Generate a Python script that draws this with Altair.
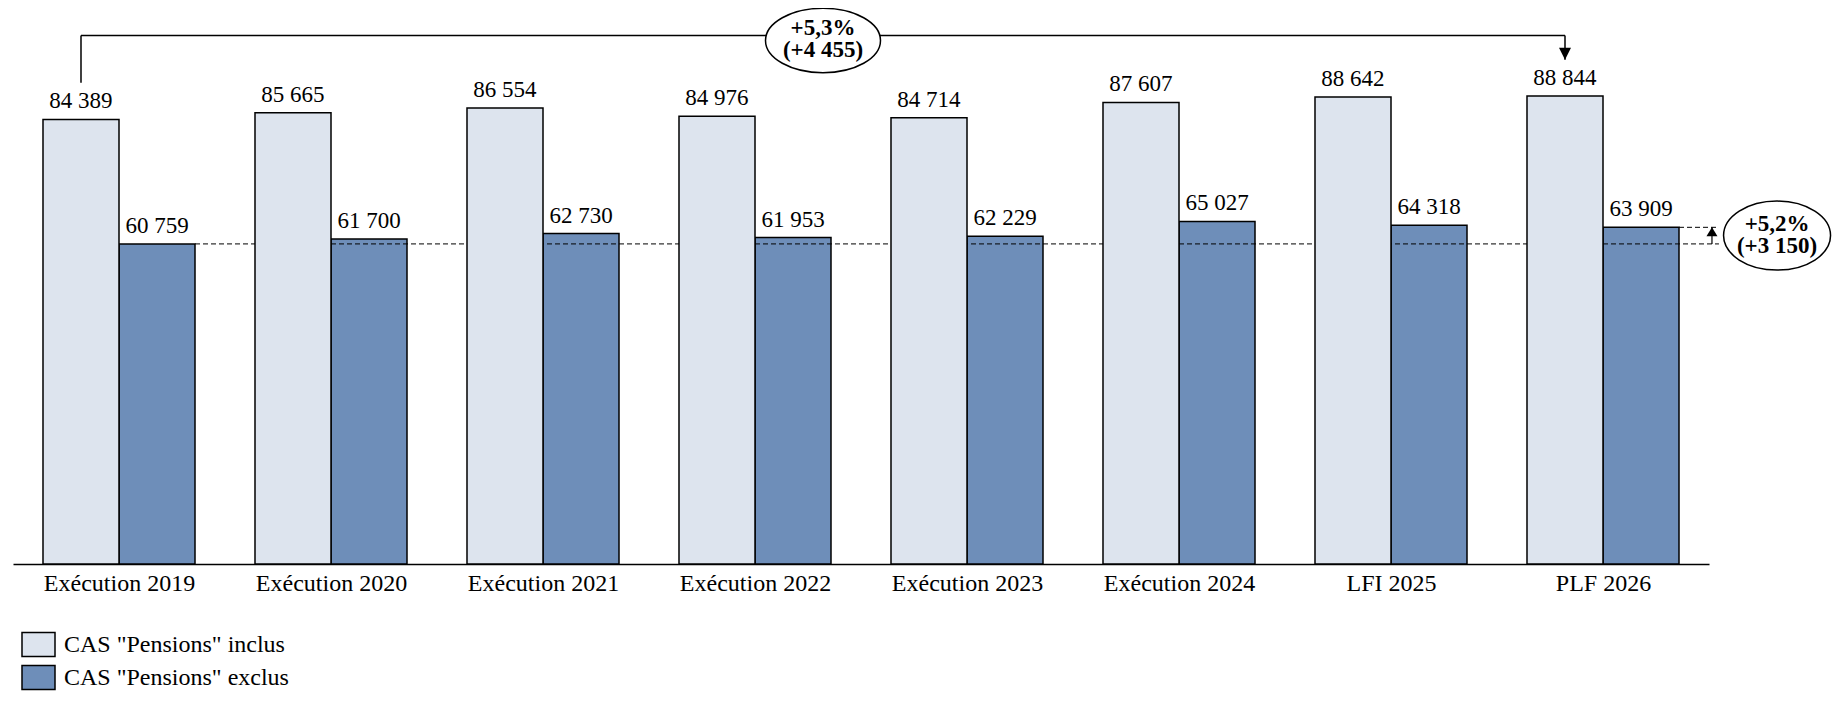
import json
import altair as alt
import pandas as pd

# ---------------- data ----------------
categories = ["Exécution 2019", "Exécution 2020", "Exécution 2021", "Exécution 2022",
              "Exécution 2023", "Exécution 2024", "LFI 2025", "PLF 2026"]
cas_inclus = [84389, 85665, 86554, 84976, 84714, 87607, 88642, 88844]
cas_exclus = [60759, 61700, 62730, 61953, 62229, 65027, 64318, 63909]
series = ['CAS "Pensions" inclus', 'CAS "Pensions" exclus']
colors = ["#DDE4EE", "#6E8EB9"]
evol_inclus = ["+5,3%", "(+4\u00a0455)"]
evol_exclus = ["+5,2%", "(+3\u00a0150)"]

# ---------------- layout ----------------
SERIF = "Liberation Serif"
W, H = 1696, 556
XMIN, XMAX = -0.5, 7.5
YMAX = 105540
BW = 0.3585                      # bar width, in group units
BRACKET_Y = 100340               # level of the top bracket (data units)
BRACKET_START = 91360            # bottom of the bracket's left leg
BRACKET_TIP = 95730              # tip of the bracket's arrow
TOP_ELLIPSE_Y = 99371
RIGHT_X = 7.547                  # right end of the dashed guides
ARROW_X = 7.514
RIGHT_ELLIPSE_X = 7.821

ELLIPSE_TOP = "M-1,0A1,0.56,0,1,0,1,0A1,0.56,0,1,0,-1,0Z"
ELLIPSE_RIGHT = "M-1,0A1,0.645,0,1,0,1,0A1,0.645,0,1,0,-1,0Z"
TRI_UP = "M0,0L0.55,0.9L-0.55,0.9Z"
TRI_DOWN = "M0,0L0.5,-1L-0.5,-1Z"
LEGEND_RECT = "M-1,-0.727L1,-0.727L1,0.727L-1,0.727Z"


def fmt(v):
    return f"{v:,}".replace(",", "\u00a0")


rows = []
for i, c in enumerate(categories):
    rows.append(dict(cat=c, idx=i, serie=series[0], x0=i - BW, x1=i,
                     xm=i - BW / 2, value=cas_inclus[i], label=fmt(cas_inclus[i])))
    rows.append(dict(cat=c, idx=i, serie=series[1], x0=i, x1=i + BW,
                     xm=i + BW / 2, value=cas_exclus[i], label=fmt(cas_exclus[i])))
bars = pd.DataFrame(rows)

xs = alt.Scale(domain=[XMIN, XMAX], nice=False, zero=False)
ys = alt.Scale(domain=[0, YMAX], nice=False, zero=True)
cs = alt.Scale(domain=series, range=colors)

x_axis = alt.Axis(
    values=list(range(len(categories))),
    labelExpr=json.dumps(categories) + "[datum.value]",
    ticks=False, tickSize=0, grid=False, domain=True,
    domainColor="black", domainWidth=1.5,
    labelFont=SERIF, labelFontSize=24, labelColor="black",
    labelPadding=7, labelFlush=False, labelOverlap=False, title=None,
)


def X(f):
    return alt.X(f, type="quantitative", scale=xs, axis=x_axis, title=None)


def Y(f):
    return alt.Y(f, type="quantitative", scale=ys, axis=None, title=None)


legend = alt.Legend(
    orient="none", legendX=8, legendY=619, direction="vertical", title=None,
    symbolType=LEGEND_RECT, symbolSize=1089, symbolStrokeColor="black",
    symbolStrokeWidth=1.5, symbolOpacity=1, labelLimit=0,
    labelFont=SERIF, labelFontSize=24, labelColor="black", labelOffset=8,
    rowPadding=0, padding=0, offset=0,
)

color = alt.Color("serie:N", scale=cs, legend=legend)

base_bars = alt.Chart(bars).mark_bar(stroke="black", strokeWidth=1.5, opacity=1)

dark = base_bars.transform_filter(alt.datum.serie == series[1]).encode(
    x=X("x0"), x2="x1:Q", y=Y("value"), y2=alt.datum(0), color=color)

light = base_bars.transform_filter(alt.datum.serie == series[0]).encode(
    x=X("x0"), x2="x1:Q", y=Y("value"), y2=alt.datum(0), color=color)

labels = alt.Chart(bars).mark_text(
    font=SERIF, fontSize=23, color="black", baseline="alphabetic", dy=-11
).encode(x=X("xm"), y=Y("value"), text="label:N")

# dashed guides (level of the first and last "exclus" values)
dash_df = pd.DataFrame([
    dict(x=BW, x2=RIGHT_X, y=cas_exclus[0]),
    dict(x=len(categories) - 1 + BW, x2=RIGHT_X, y=cas_exclus[-1]),
])
dashes = alt.Chart(dash_df).mark_rule(
    color="black", strokeWidth=1, strokeDash=[5, 3]
).encode(x=X("x"), x2="x2:Q", y=Y("y"))

# small arrow on the right
arrow_df = pd.DataFrame([dict(x=ARROW_X, y=cas_exclus[0], y2=cas_exclus[-1])])
arrow_stem = alt.Chart(arrow_df).mark_rule(color="black", strokeWidth=1.2).encode(
    x=X("x"), y=Y("y"), y2="y2:Q")
arrow_head = alt.Chart(arrow_df).mark_point(
    shape=TRI_UP, size=400, filled=True, color="black", opacity=1
).encode(x=X("x"), y=Y("y2"))

# top bracket from the first to the last "inclus" bar
xl = -BW / 2
xr = len(categories) - 1 - BW / 2
bracket_df = pd.DataFrame([
    dict(x=xl, x2=xl, y=BRACKET_START, y2=BRACKET_Y),
    dict(x=xl, x2=xr, y=BRACKET_Y, y2=BRACKET_Y),
    dict(x=xr, x2=xr, y=BRACKET_Y, y2=BRACKET_TIP),
])
bracket = alt.Chart(bracket_df).mark_rule(color="black", strokeWidth=1.5).encode(
    x=X("x"), x2="x2:Q", y=Y("y"), y2="y2:Q")
tip_df = pd.DataFrame([dict(x=xr, y=BRACKET_TIP)])
bracket_head = alt.Chart(tip_df).mark_point(
    shape=TRI_DOWN, size=576, filled=True, color="black", opacity=1
).encode(x=X("x"), y=Y("y"))

# ellipses with the evolutions
top_df = pd.DataFrame([dict(x=(xl + xr) / 2, y=TOP_ELLIPSE_Y)])
right_df = pd.DataFrame([dict(x=RIGHT_ELLIPSE_X, y=(cas_exclus[0] + cas_exclus[-1]) / 2)])


def bubble(df, shape_path, size, txt):
    shape = alt.Chart(df).mark_point(
        shape=shape_path, size=size, filled=True, fill="white", stroke="black",
        strokeWidth=1.5, opacity=1, fillOpacity=1, strokeOpacity=1
    ).encode(x=X("x"), y=Y("y"))
    text = alt.Chart(df).mark_text(
        text=txt, font=SERIF, fontSize=23, fontWeight="bold", color="black",
        align="center", baseline="middle", lineHeight=22, dy=-12
    ).encode(x=X("x"), y=Y("y"))
    return shape + text


top_bubble = bubble(top_df, ELLIPSE_TOP, 13225, evol_inclus)
right_bubble = bubble(right_df, ELLIPSE_RIGHT, 11449, evol_exclus)

chart = alt.layer(
    dark, dashes, light, labels, arrow_stem, arrow_head,
    bracket, bracket_head, top_bubble, right_bubble
).properties(
    width=W, height=H,
    autosize=alt.AutoSizeParams(type="none"),
    padding={"left": 5, "top": 0, "right": 123, "bottom": 129},
).configure_view(stroke=None)

chart.save("out.html", embed_options={"renderer": "svg", "actions": False})
